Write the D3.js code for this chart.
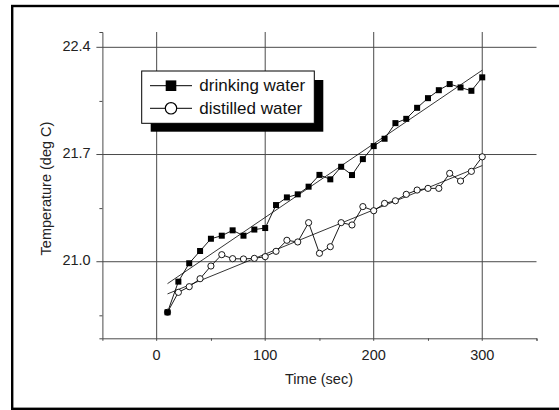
<!DOCTYPE html>
<html>
<head>
<meta charset="utf-8">
<script src="https://cdn.jsdelivr.net/npm/d3@7"></script>
<style>
body { margin: 0; background: #fff; }
svg { display: block; font-family: Arial, "Liberation Sans", sans-serif; }
</style>
</head>
<body>
<svg id="chart" width="559" height="410"></svg>
<script>
// time in seconds, temperature in deg C
var time = [10, 20, 30, 40, 50, 60, 70, 80, 90, 100, 110, 120, 130, 140, 150,
  160, 170, 180, 190, 200, 210, 220, 230, 240, 250, 260, 270, 280, 290, 300];
var drinking = [20.67, 20.87, 20.99, 21.07, 21.15, 21.17, 21.205, 21.17, 21.21, 21.22,
  21.37, 21.42, 21.44, 21.49, 21.567, 21.538, 21.62, 21.566, 21.67, 21.755,
  21.803, 21.905, 21.933, 22.005, 22.068, 22.12, 22.16, 22.138, 22.116, 22.204];
var distilled = [20.67, 20.80, 20.837, 20.889, 20.972, 21.046, 21.02, 21.018, 21.022, 21.033,
  21.068, 21.14, 21.129, 21.255, 21.055, 21.098, 21.255, 21.24, 21.36, 21.333,
  21.381, 21.398, 21.44, 21.468, 21.479, 21.479, 21.577, 21.527, 21.59, 21.685];
var xMajor = [0, 100, 200, 300];
var xMinor = [50, 150, 250, 350];
var yMajor = [21.0, 21.7, 22.4];
var yMinor = [20.65, 21.35, 22.05];
var seriesNames = ["drinking water", "distilled water"];

var svg = d3.select("#chart");
var x = d3.scaleLinear().domain([-50, 350]).range([102.4, 536.5]);
var y = d3.scaleLinear().domain([20.5, 22.5]).range([338.3, 32]);
var gridColor = "#4a4a4a";

// outer frame (cut by the right edge of the picture)
svg.append("rect").attr("x", 12.2).attr("y", 6).attr("width", 620).attr("height", 402.8)
  .attr("fill", "none").attr("stroke", "#000").attr("stroke-width", 2.4);

// grid
svg.selectAll("line.vgrid").data(xMajor).enter().append("line").attr("class", "vgrid")
  .attr("x1", function(d){ return x(d); }).attr("x2", function(d){ return x(d); })
  .attr("y1", y(22.5)).attr("y2", y(20.5) + 2.5)
  .attr("stroke", gridColor).attr("stroke-width", 1);
svg.selectAll("line.hgrid").data(yMajor).enter().append("line").attr("class", "hgrid")
  .attr("x1", x(-50) - 6).attr("x2", x(350))
  .attr("y1", function(d){ return y(d); }).attr("y2", function(d){ return y(d); })
  .attr("stroke", gridColor).attr("stroke-width", 1);

// axes
var xAxis = d3.axisBottom(x).tickValues(xMinor).tickSize(2.5).tickFormat("");
svg.append("g").attr("transform", "translate(0," + y(20.5) + ")").call(xAxis)
  .call(function(g){ g.selectAll("path,line").attr("stroke", gridColor); });
var yAxis = d3.axisLeft(y).tickValues(yMinor).tickSize(3).tickFormat("");
svg.append("g").attr("transform", "translate(" + x(-50) + ",0)").call(yAxis)
  .call(function(g){ g.selectAll("path,line").attr("stroke", gridColor); });

svg.selectAll("text.xlab").data(xMajor).enter().append("text").attr("class", "xlab")
  .attr("x", function(d){ return x(d); }).attr("y", 360)
  .attr("text-anchor", "middle").attr("font-size", 14.5).attr("fill", "#222")
  .text(function(d){ return d; });
svg.selectAll("text.ylab").data(yMajor).enter().append("text").attr("class", "ylab")
  .attr("x", 90.7).attr("y", function(d){ return y(d) + 3.5; })
  .attr("text-anchor", "end").attr("font-size", 14.5).attr("fill", "#222")
  .text(function(d){ return d3.format(".1f")(d); });

svg.append("text").attr("x", 319).attr("y", 383.5).attr("text-anchor", "middle")
  .attr("font-size", 14.5).attr("fill", "#222").text("Time (sec)");
svg.append("text").attr("transform", "translate(51,188.5) rotate(-90)")
  .attr("text-anchor", "middle").attr("font-size", 14.5).attr("fill", "#222")
  .text("Temperature (deg C)");

// linear least squares fit
function fit(xs, ys){
  var mx = d3.mean(xs), my = d3.mean(ys);
  var sxy = d3.sum(xs, function(v, i){ return (v - mx) * (ys[i] - my); });
  var sxx = d3.sum(xs, function(v){ return (v - mx) * (v - mx); });
  var b = sxy / sxx;
  return function(t){ return my + b * (t - mx); };
}

var line = d3.line()
  .x(function(d){ return x(d[0]); })
  .y(function(d){ return y(d[1]); });

[drinking, distilled].forEach(function(vals){
  var f = fit(time, vals);
  var ext = d3.extent(time);
  svg.append("path").attr("d", line(ext.map(function(t){ return [t, f(t)]; })))
    .attr("fill", "none").attr("stroke", "#000").attr("stroke-width", 0.8);
  svg.append("path").attr("d", line(d3.zip(time, vals)))
    .attr("fill", "none").attr("stroke", "#000").attr("stroke-width", 0.9);
});

svg.selectAll("circle.pt").data(d3.zip(time, distilled)).enter().append("circle").attr("class", "pt")
  .attr("cx", function(d){ return x(d[0]); }).attr("cy", function(d){ return y(d[1]); })
  .attr("r", 3.1).attr("fill", "#fff").attr("stroke", "#000").attr("stroke-width", 0.9);
svg.selectAll("rect.pt").data(d3.zip(time, drinking)).enter().append("rect").attr("class", "pt")
  .attr("x", function(d){ return x(d[0]) - 3; }).attr("y", function(d){ return y(d[1]) - 3; })
  .attr("width", 6).attr("height", 6).attr("fill", "#000");

// legend with shadow
var lg = svg.append("g");
lg.append("rect").attr("x", 150.7).attr("y", 80).attr("width", 172.6).attr("height", 51.7).attr("fill", "#000");
lg.append("rect").attr("x", 141.7).attr("y", 71).attr("width", 172.6).attr("height", 52.3)
  .attr("fill", "#fff").attr("stroke", "#000").attr("stroke-width", 1);
var rows = lg.selectAll("g.row").data(seriesNames).enter().append("g").attr("class", "row")
  .attr("transform", function(d, i){ return "translate(0," + (85.7 + i * 22.6) + ")"; });
rows.append("line").attr("x1", 150).attr("x2", 192).attr("stroke", "#000").attr("stroke-width", 1);
rows.filter(function(d, i){ return i === 0; }).append("rect")
  .attr("x", 171 - 5.3).attr("y", -5.3).attr("width", 10.6).attr("height", 10.6).attr("fill", "#000");
rows.filter(function(d, i){ return i === 1; }).append("circle")
  .attr("cx", 171).attr("r", 5.7).attr("fill", "#fff").attr("stroke", "#000").attr("stroke-width", 1.2);
rows.append("text").attr("x", 199.3).attr("y", 5.6).attr("font-size", 17).attr("fill", "#111")
  .text(function(d){ return d; });
</script>
</body>
</html>
